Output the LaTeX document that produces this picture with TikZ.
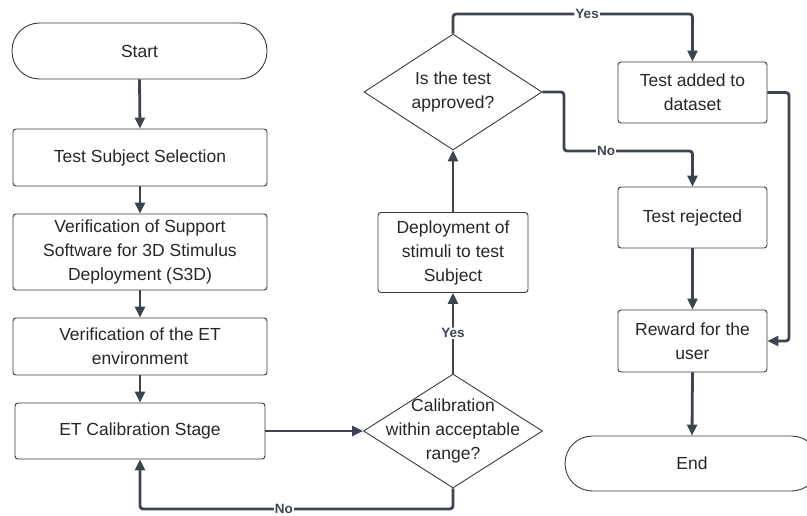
\documentclass[tikz,border=0pt]{standalone}
\usepackage{fontspec}
\setmainfont{Liberation Sans}
\usetikzlibrary{arrows.meta,shapes.geometric,calc}
\definecolor{lineC}{HTML}{3D4450}
\definecolor{edgeC}{HTML}{3A3A3A}
\begin{document}
\begin{tikzpicture}[x=1pt,y=-1pt,
  every node/.style={font=\fontsize{17.5}{24}\selectfont, text=black!85},
  box/.style={draw=edgeC, line width=0.9pt, rounded corners=3pt, align=center, inner sep=0pt},
  term/.style={draw=edgeC, line width=0.9pt, rounded corners=27.5pt, align=center, inner sep=0pt},
  dia/.style={draw=edgeC, line width=0.9pt, diamond, inner sep=0pt},
  conn/.style={draw=lineC, line width=2.8pt, rounded corners=3pt},
  arr/.style={conn, -{Triangle[length=11pt,width=10pt]}},
  lab/.style={font=\fontsize{13.5}{14}\selectfont\bfseries, text=lineC, fill=white, inner sep=1pt}
]
\useasboundingbox (0,0) rectangle (807,515);
\clip (0,0) rectangle (807,515);

% left column
\node[term, minimum width=255pt, minimum height=56pt] (start) at (139.5,51) {Start};
\node[box, minimum width=254pt, minimum height=57pt] (sel) at (140,157.5) {Test Subject Selection};
\node[box, minimum width=254pt, minimum height=76pt] (s3d) at (140,252) {Verification of Support\\Software for 3D Stimulus\\Deployment (S3D)};
\node[box, minimum width=254pt, minimum height=57pt] (env) at (140,346.5) {Verification of the ET\\environment};
\node[box, minimum width=250pt, minimum height=56pt] (cal) at (140,431) {ET Calibration Stage};

% middle column
\node[dia, minimum width=179pt, minimum height=114pt] (calq) at (453,431) {};
\node[align=center] (calqt) at (calq.center) {Calibration\\within acceptable\\range?};
\node[box, minimum width=150pt, minimum height=80pt] (dep) at (453,252.5) {Deployment of\\stimuli to test\\Subject};
\node[dia, minimum width=178pt, minimum height=116pt] (appq) at (453,92) {};
\node[align=center] (appqt) at (appq.center) {Is the test\\approved?};

% right column
\node[box, minimum width=149pt, minimum height=61pt] (added) at (692.5,92.5) {Test added to\\dataset};
\node[box, minimum width=149pt, minimum height=61pt] (rej) at (692.5,217.5) {Test rejected};
\node[box, minimum width=149pt, minimum height=62pt] (rew) at (692.5,341) {Reward for the\\user};
\node[term, minimum width=254pt, minimum height=55pt] (end) at (692,463.5) {End};

\coordinate (noA) at (453,509);
\coordinate (yesA) at (453,14);
\coordinate (noB) at (564,92);
\coordinate (rA) at (789,92.5);

% connectors
\draw[arr] (start.south) -- (sel.north);
\draw[arr] (sel.south) -- (s3d.north);
\draw[arr] (s3d.south) -- (env.north);
\draw[arr] (env.south) -- (cal.north);
\draw[arr] (cal.east) -- (calq.west);
\draw[arr] (calq.south) -- (noA) -| node[lab, pos=0.27] {No} (cal.south);
\draw[arr] (calq.north) -- node[lab, pos=0.5] {Yes} (dep.south);
\draw[arr] (dep.north) -- (appq.south);
\draw[arr] (appq.north) -- (yesA) -| node[lab, pos=0.28] {Yes} (added.north);
\draw[arr] (appq.east) -- (noB) |- (rej.north |- 0,151) -- (rej.north);
\node[lab] (nolab) at (606,151) {No};
\draw[arr] (rej.south) -- (rew.north);
\draw[arr] (added.east) -- (rA) |- (rew.east);
\draw[arr] (rew.south) -- (end.north);
\end{tikzpicture}
\end{document}
